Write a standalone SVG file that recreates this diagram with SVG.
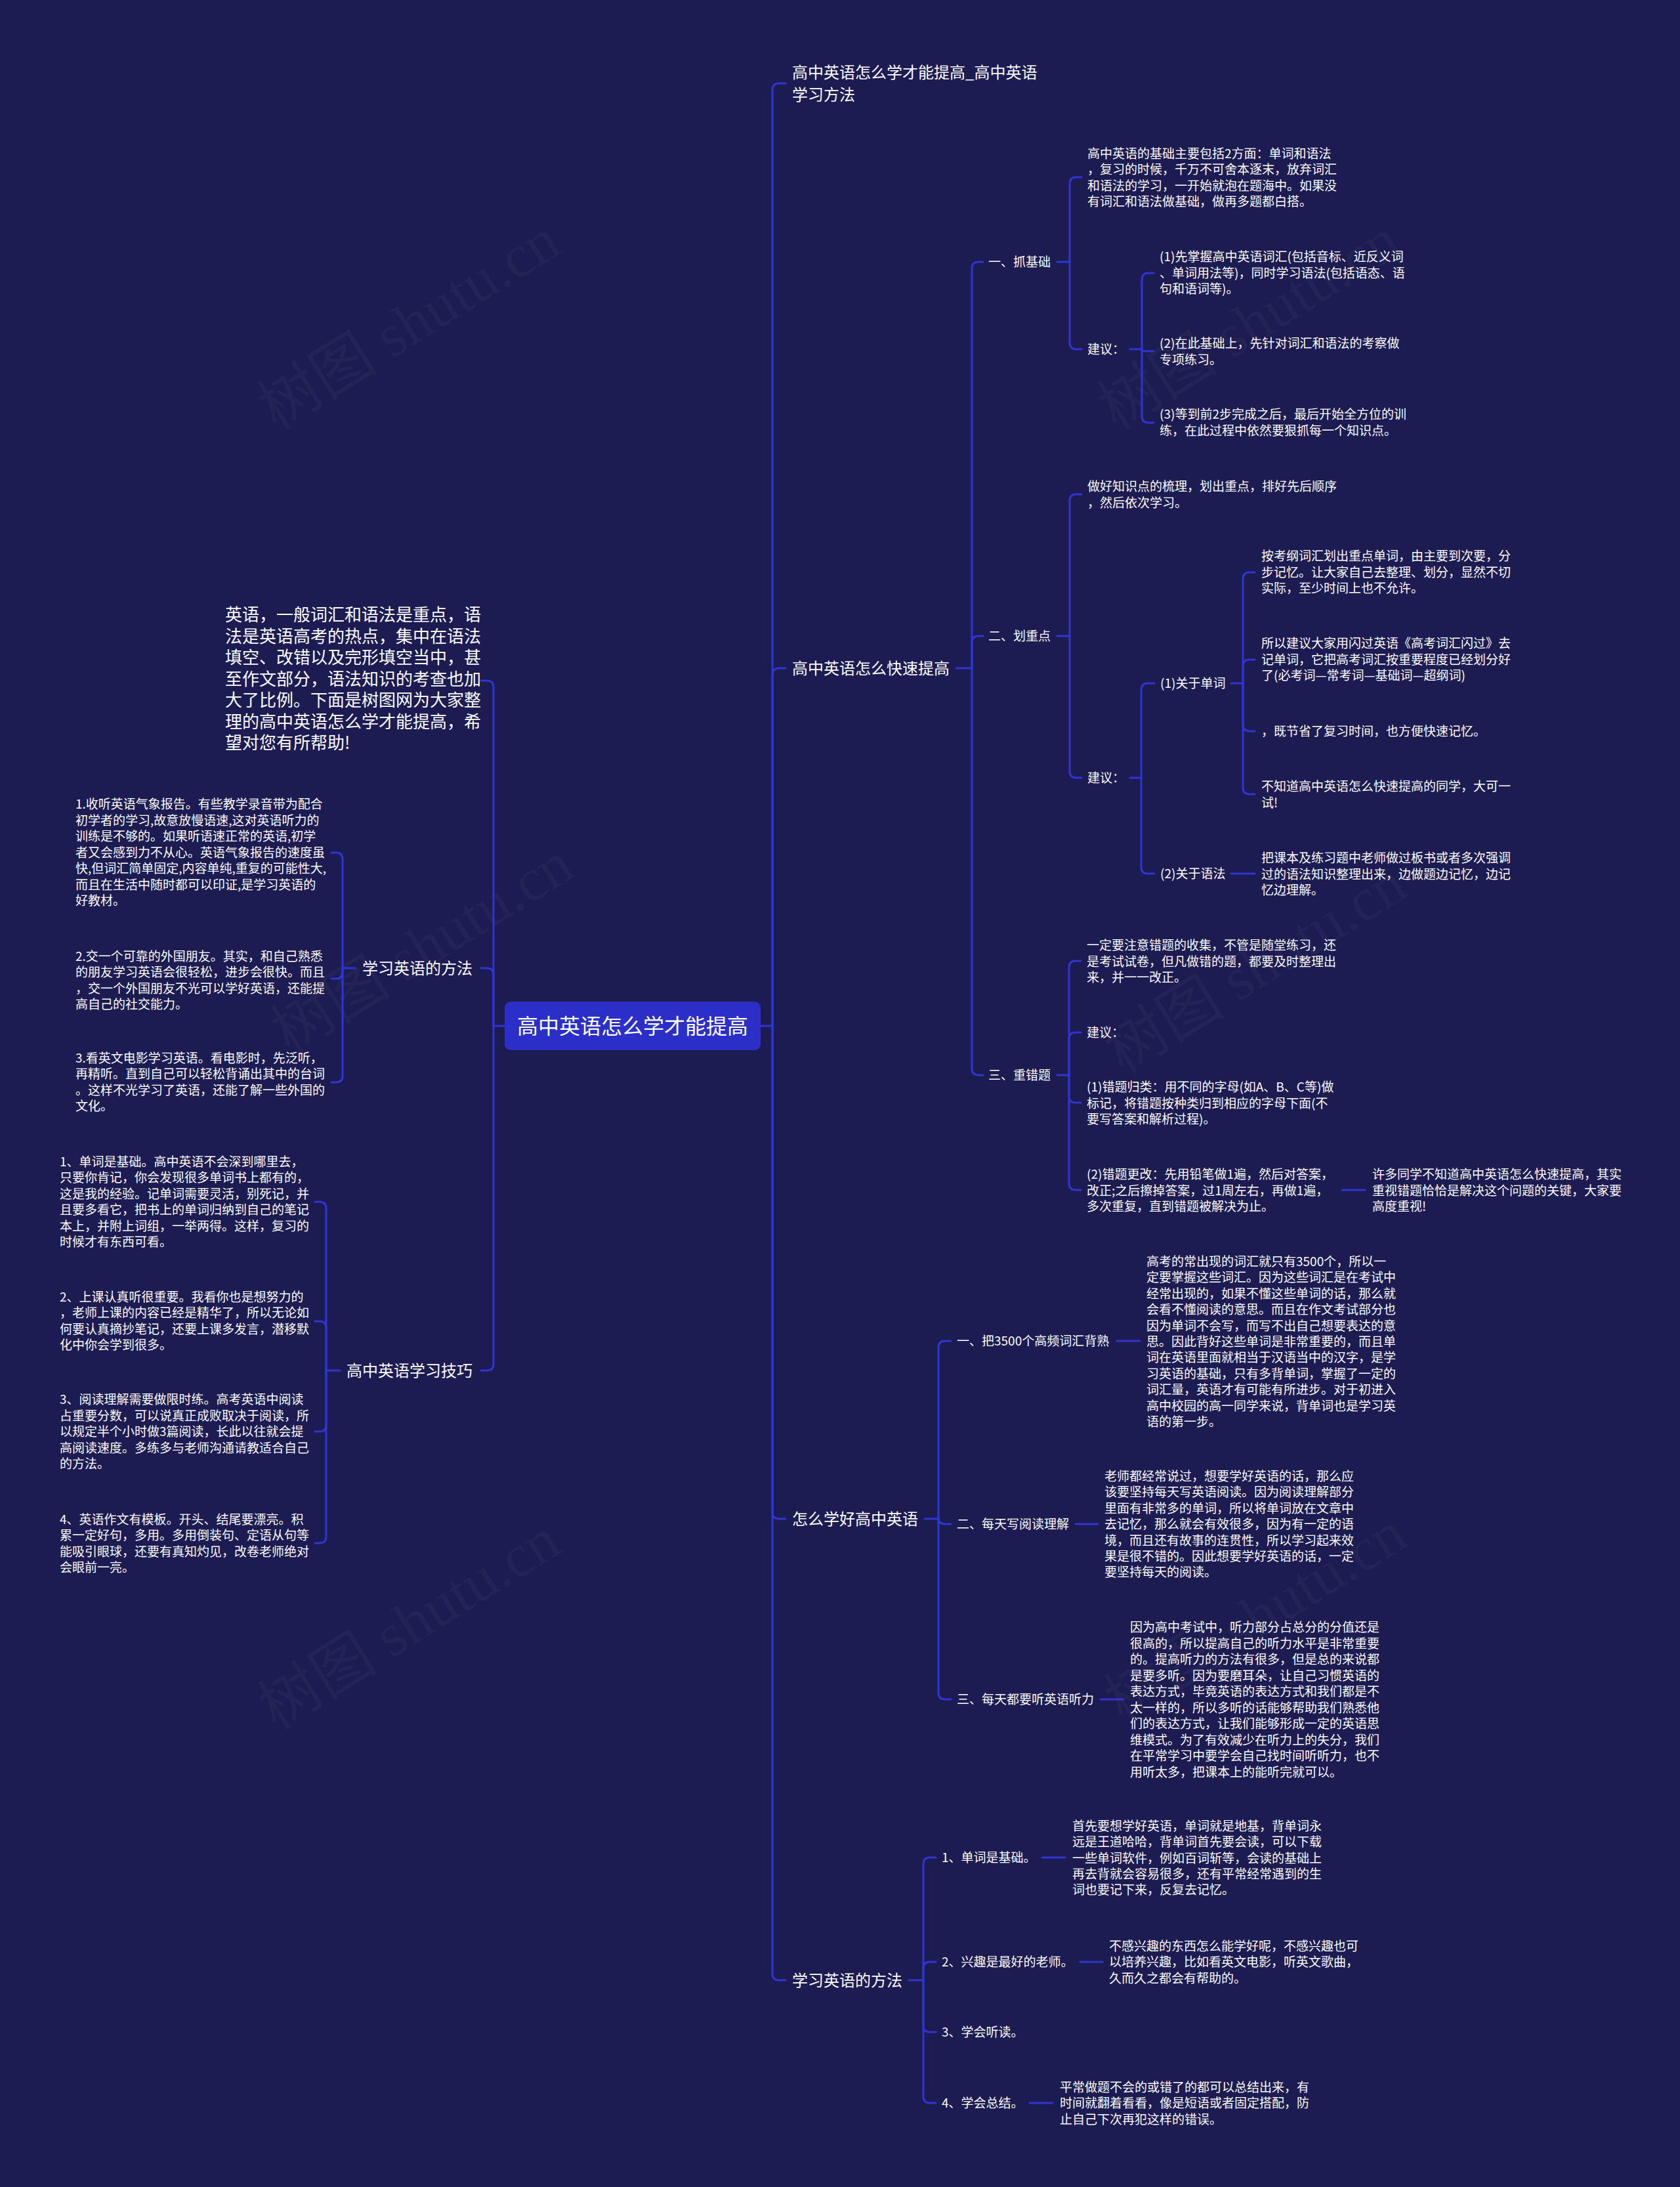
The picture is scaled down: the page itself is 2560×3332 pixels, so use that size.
<svg xmlns="http://www.w3.org/2000/svg" width="2560" height="3332" viewBox="0 0 2560 3332">
<style>
.l{fill:none;stroke:#3035d2;stroke-width:3;stroke-linecap:round;stroke-linejoin:round}
text{font-family:'Noto Sans CJK SC','Noto Sans',sans-serif;fill:#ffffff}
.t0{font-size:32px}
.t1{font-size:24px}
.t2{font-size:19px}
.ti{font-size:26px}
.wm{font-family:'Liberation Serif','Noto Sans CJK SC',serif;font-size:92px;fill:#ffffff;fill-opacity:0.035}
</style>
<rect width="2560" height="3332" fill="#1c1b52"/>
<g id="watermark">
<text class="wm" transform="translate(640,520) rotate(-32)" text-anchor="middle">树图 shutu.cn</text>
<text class="wm" transform="translate(1920,520) rotate(-32)" text-anchor="middle">树图 shutu.cn</text>
<text class="wm" transform="translate(660,1470) rotate(-32)" text-anchor="middle">树图 shutu.cn</text>
<text class="wm" transform="translate(1930,1500) rotate(-32)" text-anchor="middle">树图 shutu.cn</text>
<text class="wm" transform="translate(640,2500) rotate(-32)" text-anchor="middle">树图 shutu.cn</text>
<text class="wm" transform="translate(1930,2490) rotate(-32)" text-anchor="middle">树图 shutu.cn</text>
</g>
<g id="connectors">
<path class="l" d="M1158,1563 H1177"/>
<path class="l" d="M1177,1563 V137 Q1177,127 1187,127 H1197"/>
<path class="l" d="M1177,1563 V1028 Q1177,1018 1187,1018 H1197"/>
<path class="l" d="M1177,1563 V2304 Q1177,2314 1187,2314 H1197"/>
<path class="l" d="M1177,1563 V3007 Q1177,3017 1187,3017 H1197"/>
<path class="l" d="M1457,1018 H1481"/>
<path class="l" d="M1481,1018 V409 Q1481,399 1491,399 H1498"/>
<path class="l" d="M1481,1018 V979 Q1481,969 1491,969 H1498"/>
<path class="l" d="M1481,1018 V1628 Q1481,1638 1491,1638 H1498"/>
<path class="l" d="M1611,399 H1630"/>
<path class="l" d="M1630,399 V280 Q1630,270 1640,270 H1648"/>
<path class="l" d="M1630,399 V522 Q1630,532 1640,532 H1648"/>
<path class="l" d="M1722,532 H1740"/>
<path class="l" d="M1740,532 V426 Q1740,416 1750,416 H1758"/>
<path class="l" d="M1740,532 V535 H1758"/>
<path class="l" d="M1740,532 V634 Q1740,644 1750,644 H1758"/>
<path class="l" d="M1611,969 H1630"/>
<path class="l" d="M1630,969 V763 Q1630,753 1640,753 H1648"/>
<path class="l" d="M1630,969 V1175 Q1630,1185 1640,1185 H1648"/>
<path class="l" d="M1722,1185 H1739"/>
<path class="l" d="M1739,1185 V1051 Q1739,1041 1749,1041 H1759"/>
<path class="l" d="M1739,1185 V1321 Q1739,1331 1749,1331 H1759"/>
<path class="l" d="M1876,1041 H1894"/>
<path class="l" d="M1894,1041 V882 Q1894,872 1904,872 H1912"/>
<path class="l" d="M1894,1041 V1015 Q1894,1005 1904,1005 H1912"/>
<path class="l" d="M1894,1041 V1104 Q1894,1114 1904,1114 H1912"/>
<path class="l" d="M1894,1041 V1200 Q1894,1210 1904,1210 H1912"/>
<path class="l" d="M1876,1331 H1912"/>
<path class="l" d="M1611,1638 H1629"/>
<path class="l" d="M1629,1638 V1474 Q1629,1464 1639,1464 H1647"/>
<path class="l" d="M1629,1638 V1583 Q1629,1573 1639,1573 H1647"/>
<path class="l" d="M1629,1638 V1670 Q1629,1680 1639,1680 H1647"/>
<path class="l" d="M1629,1638 V1803 Q1629,1813 1639,1813 H1647"/>
<path class="l" d="M2045,1813 H2080"/>
<path class="l" d="M1409,2314 H1430"/>
<path class="l" d="M1430,2314 V2053 Q1430,2043 1440,2043 H1449"/>
<path class="l" d="M1430,2314 V2312 Q1430,2322 1440,2322 H1449"/>
<path class="l" d="M1430,2314 V2579 Q1430,2589 1440,2589 H1449"/>
<path class="l" d="M1702,2043 H1737"/>
<path class="l" d="M1639,2322 H1673"/>
<path class="l" d="M1677,2589 H1712"/>
<path class="l" d="M1385,3017 H1407"/>
<path class="l" d="M1407,3017 V2840 Q1407,2830 1417,2830 H1426"/>
<path class="l" d="M1407,3017 V2999 Q1407,2989 1417,2989 H1426"/>
<path class="l" d="M1407,3017 V3086 Q1407,3096 1417,3096 H1426"/>
<path class="l" d="M1407,3017 V3194 Q1407,3204 1417,3204 H1426"/>
<path class="l" d="M1588,2830 H1623"/>
<path class="l" d="M1646,2989 H1680"/>
<path class="l" d="M1569,3204 H1604"/>
<path class="l" d="M769,1563 H752"/>
<path class="l" d="M752,1563 V1047 Q752,1037 742,1037 H733"/>
<path class="l" d="M752,1563 V1485 Q752,1475 742,1475 H733"/>
<path class="l" d="M752,1563 V2078 Q752,2088 742,2088 H733"/>
<path class="l" d="M541,1475 H522"/>
<path class="l" d="M522,1475 V1309 Q522,1299 512,1299 H505"/>
<path class="l" d="M522,1475 V1481 Q522,1491 512,1491 H505"/>
<path class="l" d="M522,1475 V1639 Q522,1649 512,1649 H505"/>
<path class="l" d="M518,2088 H497"/>
<path class="l" d="M497,2088 V1841 Q497,1831 487,1831 H480"/>
<path class="l" d="M497,2088 V2023 Q497,2013 487,2013 H480"/>
<path class="l" d="M497,2088 V2171 Q497,2181 487,2181 H480"/>
<path class="l" d="M497,2088 V2341 Q497,2351 487,2351 H480"/>
</g>
<g id="center">
<rect x="769" y="1526" width="390" height="74" rx="9" fill="#2b2fc7"/>
<text class="t0" x="964" y="1575" text-anchor="middle">高中英语怎么学才能提高</text>
</g>
<g id="r1"><text class="t1" x="1207" y="119">高中英语怎么学才能提高_高中英语<tspan x="1207" dy="34">学习方法</tspan></text></g>
<g id="r2"><text class="t1" x="1207" y="1027">高中英语怎么快速提高</text></g>
<g id="r2a"><text class="t2" x="1506" y="406">一、抓基础</text></g>
<g id="r2a1"><text class="t2" x="1657" y="241">高中英语的基础主要包括2方面：单词和语法<tspan x="1657" dy="24.4">，复习的时候，千万不可舍本逐末，放弃词汇</tspan><tspan x="1657" dy="24.4">和语法的学习，一开始就泡在题海中。如果没</tspan><tspan x="1657" dy="24.4">有词汇和语法做基础，做再多题都白搭。</tspan></text></g>
<g id="r2a2"><text class="t2" x="1657" y="539">建议：</text></g>
<g id="r2a2a"><text class="t2" x="1767" y="398">(1)先掌握高中英语词汇(包括音标、近反义词<tspan x="1767" dy="24.5">、单词用法等)，同时学习语法(包括语态、语</tspan><tspan x="1767" dy="24.5">句和语词等)。</tspan></text></g>
<g id="r2a2b"><text class="t2" x="1767" y="530">(2)在此基础上，先针对词汇和语法的考察做<tspan x="1767" dy="24.5">专项练习。</tspan></text></g>
<g id="r2a2c"><text class="t2" x="1767" y="638">(3)等到前2步完成之后，最后开始全方位的训<tspan x="1767" dy="24.5">练，在此过程中依然要狠抓每一个知识点。</tspan></text></g>
<g id="r2b"><text class="t2" x="1506" y="976">二、划重点</text></g>
<g id="r2b1"><text class="t2" x="1657" y="748">做好知识点的梳理，划出重点，排好先后顺序<tspan x="1657" dy="24.5">，然后依次学习。</tspan></text></g>
<g id="r2b2"><text class="t2" x="1657" y="1192">建议：</text></g>
<g id="r2b2a"><text class="t2" x="1768" y="1048">(1)关于单词</text></g>
<g id="r2b2a1"><text class="t2" x="1922" y="854">按考纲词汇划出重点单词，由主要到次要，分<tspan x="1922" dy="24.5">步记忆。让大家自己去整理、划分，显然不切</tspan><tspan x="1922" dy="24.5">实际，至少时间上也不允许。</tspan></text></g>
<g id="r2b2a2"><text class="t2" x="1922" y="987">所以建议大家用闪过英语《高考词汇闪过》去<tspan x="1922" dy="24.5">记单词，它把高考词汇按重要程度已经划分好</tspan><tspan x="1922" dy="24.5">了(必考词—常考词—基础词—超纲词)</tspan></text></g>
<g id="r2b2a3"><text class="t2" x="1922" y="1121">，既节省了复习时间，也方便快速记忆。</text></g>
<g id="r2b2a4"><text class="t2" x="1922" y="1205">不知道高中英语怎么快速提高的同学，大可一<tspan x="1922" dy="24.5">试!</tspan></text></g>
<g id="r2b2b"><text class="t2" x="1768" y="1338">(2)关于语法</text></g>
<g id="r2b2b1"><text class="t2" x="1922" y="1314">把课本及练习题中老师做过板书或者多次强调<tspan x="1922" dy="24.5">过的语法知识整理出来，边做题边记忆，边记</tspan><tspan x="1922" dy="24.5">忆边理解。</tspan></text></g>
<g id="r2c"><text class="t2" x="1506" y="1645">三、重错题</text></g>
<g id="r2c1"><text class="t2" x="1656" y="1447">一定要注意错题的收集，不管是随堂练习，还<tspan x="1656" dy="24.5">是考试试卷，但凡做错的题，都要及时整理出</tspan><tspan x="1656" dy="24.5">来，并一一改正。</tspan></text></g>
<g id="r2c2"><text class="t2" x="1656" y="1580">建议：</text></g>
<g id="r2c3"><text class="t2" x="1656" y="1663">(1)错题归类：用不同的字母(如A、B、C等)做<tspan x="1656" dy="24.5">标记，将错题按种类归到相应的字母下面(不</tspan><tspan x="1656" dy="24.5">要写答案和解析过程)。</tspan></text></g>
<g id="r2c4"><text class="t2" x="1656" y="1796">(2)错题更改：先用铅笔做1遍，然后对答案，<tspan x="1656" dy="24.5">改正;之后擦掉答案，过1周左右，再做1遍，</tspan><tspan x="1656" dy="24.5">多次重复，直到错题被解决为止。</tspan></text></g>
<g id="r2c4a"><text class="t2" x="2091" y="1796">许多同学不知道高中英语怎么快速提高，其实<tspan x="2091" dy="24.5">重视错题恰恰是解决这个问题的关键，大家要</tspan><tspan x="2091" dy="24.5">高度重视!</tspan></text></g>
<g id="r3"><text class="t1" x="1207" y="2323">怎么学好高中英语</text></g>
<g id="r3a"><text class="t2" x="1458" y="2050">一、把3500个高频词汇背熟</text></g>
<g id="r3a1"><text class="t2" x="1747" y="1929">高考的常出现的词汇就只有3500个，所以一<tspan x="1747" dy="24.4">定要掌握这些词汇。因为这些词汇是在考试中</tspan><tspan x="1747" dy="24.4">经常出现的，如果不懂这些单词的话，那么就</tspan><tspan x="1747" dy="24.4">会看不懂阅读的意思。而且在作文考试部分也</tspan><tspan x="1747" dy="24.4">因为单词不会写，而写不出自己想要表达的意</tspan><tspan x="1747" dy="24.4">思。因此背好这些单词是非常重要的，而且单</tspan><tspan x="1747" dy="24.4">词在英语里面就相当于汉语当中的汉字，是学</tspan><tspan x="1747" dy="24.4">习英语的基础，只有多背单词，掌握了一定的</tspan><tspan x="1747" dy="24.4">词汇量，英语才有可能有所进步。对于初进入</tspan><tspan x="1747" dy="24.4">高中校园的高一同学来说，背单词也是学习英</tspan><tspan x="1747" dy="24.4">语的第一步。</tspan></text></g>
<g id="r3b"><text class="t2" x="1458" y="2329">二、每天写阅读理解</text></g>
<g id="r3b1"><text class="t2" x="1683" y="2256">老师都经常说过，想要学好英语的话，那么应<tspan x="1683" dy="24.4">该要坚持每天写英语阅读。因为阅读理解部分</tspan><tspan x="1683" dy="24.4">里面有非常多的单词，所以将单词放在文章中</tspan><tspan x="1683" dy="24.4">去记忆，那么就会有效很多，因为有一定的语</tspan><tspan x="1683" dy="24.4">境，而且还有故事的连贯性，所以学习起来效</tspan><tspan x="1683" dy="24.4">果是很不错的。因此想要学好英语的话，一定</tspan><tspan x="1683" dy="24.4">要坚持每天的阅读。</tspan></text></g>
<g id="r3c"><text class="t2" x="1458" y="2596">三、每天都要听英语听力</text></g>
<g id="r3c1"><text class="t2" x="1722" y="2486">因为高中考试中，听力部分占总分的分值还是<tspan x="1722" dy="24.5">很高的，所以提高自己的听力水平是非常重要</tspan><tspan x="1722" dy="24.5">的。提高听力的方法有很多，但是总的来说都</tspan><tspan x="1722" dy="24.5">是要多听。因为要磨耳朵，让自己习惯英语的</tspan><tspan x="1722" dy="24.5">表达方式，毕竟英语的表达方式和我们都是不</tspan><tspan x="1722" dy="24.5">太一样的，所以多听的话能够帮助我们熟悉他</tspan><tspan x="1722" dy="24.5">们的表达方式，让我们能够形成一定的英语思</tspan><tspan x="1722" dy="24.5">维模式。为了有效减少在听力上的失分，我们</tspan><tspan x="1722" dy="24.5">在平常学习中要学会自己找时间听听力，也不</tspan><tspan x="1722" dy="24.5">用听太多，把课本上的能听完就可以。</tspan></text></g>
<g id="r4"><text class="t1" x="1207" y="3026">学习英语的方法</text></g>
<g id="r4a"><text class="t2" x="1435" y="2837">1、单词是基础。</text></g>
<g id="r4a1"><text class="t2" x="1634" y="2789">首先要想学好英语，单词就是地基，背单词永<tspan x="1634" dy="24.3">远是王道哈哈，背单词首先要会读，可以下载</tspan><tspan x="1634" dy="24.3">一些单词软件，例如百词斩等，会读的基础上</tspan><tspan x="1634" dy="24.3">再去背就会容易很多，还有平常经常遇到的生</tspan><tspan x="1634" dy="24.3">词也要记下来，反复去记忆。</tspan></text></g>
<g id="r4b"><text class="t2" x="1435" y="2996">2、兴趣是最好的老师。</text></g>
<g id="r4b1"><text class="t2" x="1690" y="2972">不感兴趣的东西怎么能学好呢，不感兴趣也可<tspan x="1690" dy="24.3">以培养兴趣，比如看英文电影，听英文歌曲，</tspan><tspan x="1690" dy="24.3">久而久之都会有帮助的。</tspan></text></g>
<g id="r4c"><text class="t2" x="1435" y="3103">3、学会听读。</text></g>
<g id="r4d"><text class="t2" x="1435" y="3211">4、学会总结。</text></g>
<g id="r4d1"><text class="t2" x="1615" y="3187">平常做题不会的或错了的都可以总结出来，有<tspan x="1615" dy="24.3">时间就翻着看看，像是短语或者固定搭配，防</tspan><tspan x="1615" dy="24.3">止自己下次再犯这样的错误。</tspan></text></g>
<g id="l1"><text class="ti" x="343" y="946">英语，一般词汇和语法是重点，语<tspan x="343" dy="32.5">法是英语高考的热点，集中在语法</tspan><tspan x="343" dy="32.5">填空、改错以及完形填空当中，甚</tspan><tspan x="343" dy="32.5">至作文部分，语法知识的考查也加</tspan><tspan x="343" dy="32.5">大了比例。下面是树图网为大家整</tspan><tspan x="343" dy="32.5">理的高中英语怎么学才能提高，希</tspan><tspan x="343" dy="32.5">望对您有所帮助!</tspan></text></g>
<g id="l2"><text class="t1" x="720" y="1484" text-anchor="end">学习英语的方法</text></g>
<g id="l2a"><text class="t2" x="115" y="1232">1.收听英语气象报告。有些教学录音带为配合<tspan x="115" dy="24.5">初学者的学习,故意放慢语速,这对英语听力的</tspan><tspan x="115" dy="24.5">训练是不够的。如果听语速正常的英语,初学</tspan><tspan x="115" dy="24.5">者又会感到力不从心。英语气象报告的速度虽</tspan><tspan x="115" dy="24.5">快,但词汇简单固定,内容单纯,重复的可能性大,</tspan><tspan x="115" dy="24.5">而且在生活中随时都可以印证,是学习英语的</tspan><tspan x="115" dy="24.5">好教材。</tspan></text></g>
<g id="l2b"><text class="t2" x="115" y="1464">2.交一个可靠的外国朋友。其实，和自己熟悉<tspan x="115" dy="24.3">的朋友学习英语会很轻松，进步会很快。而且</tspan><tspan x="115" dy="24.3">，交一个外国朋友不光可以学好英语，还能提</tspan><tspan x="115" dy="24.3">高自己的社交能力。</tspan></text></g>
<g id="l2c"><text class="t2" x="115" y="1619">3.看英文电影学习英语。看电影时，先泛听，<tspan x="115" dy="24.3">再精听。直到自己可以轻松背诵出其中的台词</tspan><tspan x="115" dy="24.3">。这样不光学习了英语，还能了解一些外国的</tspan><tspan x="115" dy="24.3">文化。</tspan></text></g>
<g id="l3"><text class="t1" x="720" y="2097" text-anchor="end">高中英语学习技巧</text></g>
<g id="l3a"><text class="t2" x="91" y="1777">1、单词是基础。高中英语不会深到哪里去，<tspan x="91" dy="24.4">只要你肯记，你会发现很多单词书上都有的，</tspan><tspan x="91" dy="24.4">这是我的经验。记单词需要灵活，别死记，并</tspan><tspan x="91" dy="24.4">且要多看它，把书上的单词归纳到自己的笔记</tspan><tspan x="91" dy="24.4">本上，并附上词组，一举两得。这样，复习的</tspan><tspan x="91" dy="24.4">时候才有东西可看。</tspan></text></g>
<g id="l3b"><text class="t2" x="91" y="1983">2、上课认真听很重要。我看你也是想努力的<tspan x="91" dy="24.4">，老师上课的内容已经是精华了，所以无论如</tspan><tspan x="91" dy="24.4">何要认真摘抄笔记，还要上课多发言，潜移默</tspan><tspan x="91" dy="24.4">化中你会学到很多。</tspan></text></g>
<g id="l3c"><text class="t2" x="91" y="2139">3、阅读理解需要做限时练。高考英语中阅读<tspan x="91" dy="24.6">占重要分数，可以说真正成败取决于阅读，所</tspan><tspan x="91" dy="24.6">以规定半个小时做3篇阅读，长此以往就会提</tspan><tspan x="91" dy="24.6">高阅读速度。多练多与老师沟通请教适合自己</tspan><tspan x="91" dy="24.6">的方法。</tspan></text></g>
<g id="l3d"><text class="t2" x="91" y="2322">4、英语作文有模板。开头、结尾要漂亮。积<tspan x="91" dy="24.4">累一定好句，多用。多用倒装句、定语从句等</tspan><tspan x="91" dy="24.4">能吸引眼球，还要有真知灼见，改卷老师绝对</tspan><tspan x="91" dy="24.4">会眼前一亮。</tspan></text></g>
</svg>
